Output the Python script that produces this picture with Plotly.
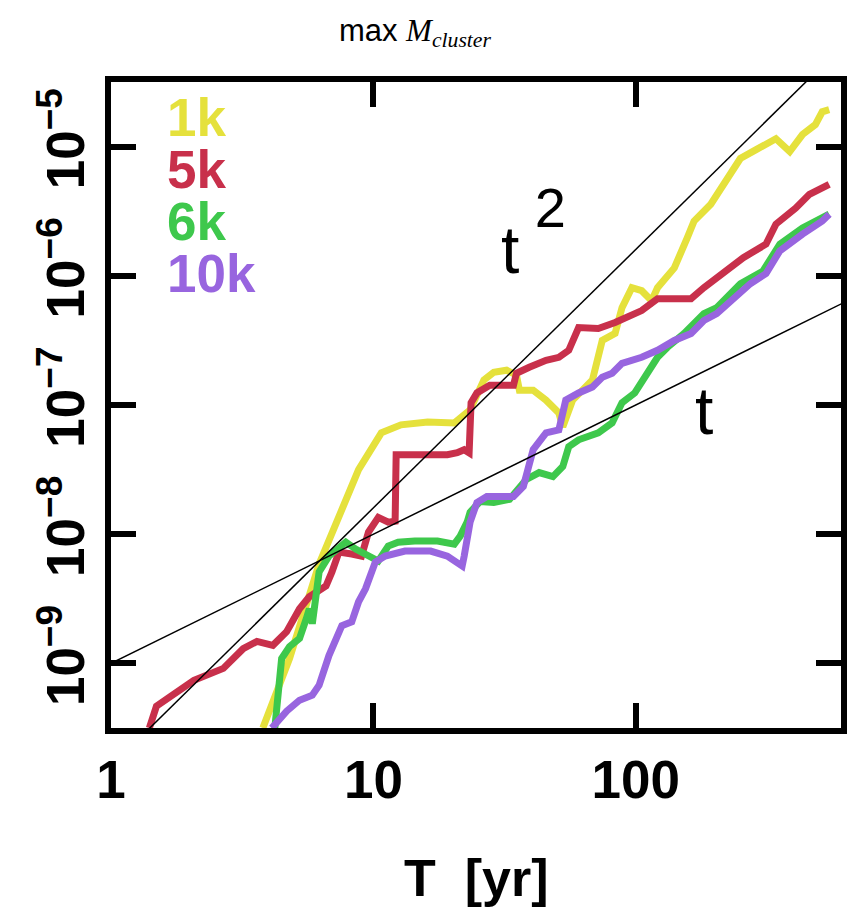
import plotly.graph_objects as go

# Largest cluster mass versus time for four run sizes
T_1K = [3.79, 4.79, 6.21, 7.92, 8.78, 10.72, 12.74, 16.10, 20.34, 23.36, 26.37, 28.75, 32.17, 35.09,
        36.01, 40.64, 45.49, 50.91, 52.70, 57.46, 68.34, 74.51, 83.39, 88.60, 96.6, 105.3, 114.9, 121.0,
        140.2, 156.9, 166.7, 193.1, 216.1, 250.3, 287.5, 341.9, 386.0, 431.8, 483.4, 513.4, 545.7]
M_1K = [3.16e-10, 1.09e-9, 5.88e-9, 1.86e-8, 3.16e-8, 6.09e-8, 7.02e-8, 7.40e-8, 7.27e-8, 9.16e-8,
        1.56e-7, 1.79e-7, 1.86e-7, 1.70e-7, 1.30e-7, 1.30e-7, 1.09e-7, 8.68e-8, 6.77e-8, 1.09e-7,
        1.56e-7, 3.16e-7, 3.58e-7, 5.67e-7, 8.09e-7, 7.67e-7, 6.42e-7, 8.09e-7, 1.15e-6, 1.96e-6,
        2.65e-6, 3.58e-6, 5.10e-6, 8.09e-6, 9.48e-6, 1.15e-5, 9.16e-6, 1.24e-5, 1.48e-5, 1.86e-5, 1.93e-5]

T_5K = [1.40, 1.49, 1.65, 2.07, 2.68, 3.19, 3.60, 4.14, 4.67, 5.23, 5.70, 6.60, 6.95, 7.39, 8.27,
        9.01, 9.58, 10.44, 11.39, 12.10, 12.21, 14.38, 19.14, 20.87, 22.18, 23.16, 23.56, 24.81, 27.77,
        34.19, 35.09, 39.26, 45.49, 50.91, 55.52, 60.53, 71.96, 83.39, 96.6, 105.3, 121.0, 162.4, 181.7,
        216.1, 256.9, 313.5, 341.9, 406.4, 458.8, 545.7]
M_5K = [3.16e-10, 4.67e-10, 5.38e-10, 7.40e-10, 9.15e-10, 1.30e-9, 1.48e-9, 1.38e-9, 1.76e-9, 2.65e-9,
        3.28e-9, 3.98e-9, 5.10e-9, 7.27e-9, 7.02e-9, 6.77e-9, 1.04e-8, 1.35e-8, 1.24e-8, 1.26e-8,
        4.12e-8, 4.12e-8, 4.12e-8, 4.27e-8, 4.51e-8, 4.27e-8, 1.04e-7, 1.24e-7, 1.42e-7, 1.42e-7,
        1.76e-7, 1.96e-7, 2.22e-7, 2.34e-7, 2.65e-7, 3.98e-7, 3.91e-7, 4.35e-7, 4.92e-7, 5.38e-7,
        6.65e-7, 6.65e-7, 8.09e-7, 1.04e-6, 1.38e-6, 1.76e-6, 2.51e-6, 3.34e-6, 4.27e-6, 5.10e-6]

T_6K = [4.21, 4.47, 4.79, 5.23, 5.55, 5.70, 5.85, 6.05, 6.21, 6.77, 7.85, 8.56, 9.58, 10.44, 11.39,
        12.42, 14.38, 17.55, 20.34, 21.42, 22.76, 23.36, 25.47, 28.75, 33.03, 38.25, 42.81, 48.33,
        52.70, 55.52, 60.53, 71.96, 81.24, 88.60, 99.1, 108.1, 121.0, 131.9, 152.8, 181.7, 203.4,
        250.3, 305.5, 353.9, 431.8, 545.7]
M_6K = [3.16e-10, 1.09e-9, 1.35e-9, 1.56e-9, 2.22e-9, 2.65e-9, 2.03e-9, 3.16e-9, 5.10e-9, 6.77e-9,
        8.68e-9, 7.67e-9, 6.77e-9, 6.20e-9, 8.09e-9, 8.68e-9, 8.84e-9, 8.84e-9, 8.38e-9, 9.66e-9,
        1.24e-8, 1.48e-8, 1.79e-8, 1.76e-8, 1.86e-8, 2.65e-8, 3.00e-8, 2.79e-8, 3.34e-8, 4.75e-8,
        5.38e-8, 6.09e-8, 7.27e-8, 1.04e-7, 1.24e-7, 1.64e-7, 2.34e-7, 2.79e-7, 3.58e-7, 5.10e-7,
        5.67e-7, 8.68e-7, 1.09e-6, 1.76e-6, 2.34e-6, 3.00e-6]

T_10K = [4.10, 4.67, 5.23, 5.85, 6.21, 6.77, 7.58, 8.27, 8.78, 9.33, 10.17, 11.09, 13.19, 16.52, 19.14,
         20.87, 21.79, 22.18, 23.36, 24.81, 27.06, 34.19, 37.28, 40.64, 45.49, 50.91, 54.09, 60.53,
         68.34, 74.51, 81.24, 88.60, 105.3, 121.0, 140.2, 162.4, 181.7, 203.4, 235.6, 273.1, 313.5,
         353.9, 431.8, 513.4, 545.7]
M_10K = [3.16e-10, 4.27e-10, 5.19e-10, 5.67e-10, 6.77e-10, 1.15e-9, 1.96e-9, 2.10e-9, 3.00e-9, 3.78e-9,
         6.09e-9, 6.77e-9, 7.40e-9, 7.40e-9, 6.77e-9, 6.09e-9, 5.67e-9, 6.77e-9, 1.24e-8, 1.76e-8,
         1.96e-8, 1.96e-8, 2.34e-8, 4.51e-8, 6.09e-8, 6.42e-8, 1.09e-7, 1.24e-7, 1.38e-7, 1.64e-7,
         1.76e-7, 2.10e-7, 2.34e-7, 2.65e-7, 3.16e-7, 3.58e-7, 4.51e-7, 5.10e-7, 6.77e-7, 8.68e-7,
         1.04e-6, 1.56e-6, 2.10e-6, 2.65e-6, 3.00e-6]

SERIES_NAMES = ["1k", "5k", "6k", "10k"]
SERIES_COLORS = ["#e5e13c", "#c8304b", "#3ec84c", "#9865df"]
SERIES_T = [T_1K, T_5K, T_6K, T_10K]
SERIES_M = [M_1K, M_5K, M_6K, M_10K]

# Power-law guide lines: M = c * t^p
GUIDE_T = [1.0, 700.0]
GUIDE_LINEAR = (1.0e-9, 1)
GUIDE_QUADRATIC = (1.6e-10, 2)

X_TICKS = [1, 10, 100]
X_TICKTEXT = ["1", "10", "100"]
Y_TICKS = [1e-9, 1e-8, 1e-7, 1e-6, 1e-5]
Y_TICKTEXT = ["10<sup>\u22129</sup>", "10<sup>\u22128</sup>", "10<sup>\u22127</sup>",
              "10<sup>\u22126</sup>", "10<sup>\u22125</sup>"]

fig = go.Figure()

for name, color, t, m in zip(SERIES_NAMES, SERIES_COLORS, SERIES_T, SERIES_M):
    fig.add_trace(go.Scatter(x=t, y=m, mode="lines", name=name,
                             line=dict(color=color, width=7)))

for c, p in (GUIDE_LINEAR, GUIDE_QUADRATIC):
    fig.add_trace(go.Scatter(x=GUIDE_T, y=[c * t ** p for t in GUIDE_T], mode="lines",
                             line=dict(color="black", width=1.5), hoverinfo="skip"))

axis_common = dict(
    type="log", showline=True, linewidth=6, linecolor="black", mirror="ticks",
    ticks="inside", ticklen=25, tickwidth=6, tickcolor="black",
    showgrid=False, zeroline=False,
    tickfont=dict(family="Liberation Sans", size=53, color="black", weight="bold"),
)

fig.update_xaxes(range=[0, 2.782], tickvals=X_TICKS, ticktext=X_TICKTEXT,
                 ticklabelstandoff=0, **axis_common)
fig.update_yaxes(range=[-9.5, -4.5], tickvals=Y_TICKS, ticktext=Y_TICKTEXT,
                 tickangle=-90, ticklabelstandoff=0, **axis_common)

# Series key in the upper-left corner: one text block, one coloured line per run
key_text = "<br>".join(
    f"<span style='color:{color};font-size:53px'>{name}</span>"
    for name, color in zip(SERIES_NAMES, SERIES_COLORS)
)
fig.add_annotation(text=key_text, xref="paper", yref="paper", x=0.074, y=0.994,
                   xanchor="left", yanchor="top", align="left", showarrow=False,
                   font=dict(family="Liberation Sans", size=40, color="black", weight="bold"))

# Slope labels for the guide lines; the large base size sets a high superscript shift
fig.add_annotation(text="<span style='font-size:66px'>t</span><sup>\u2009<span style='font-size:56px'>2</span></sup>",
                   xref="paper", yref="paper", x=0.532, y=0.783,
                   xanchor="left", yanchor="middle", showarrow=False,
                   font=dict(family="Liberation Sans", size=110, color="black"))
fig.add_annotation(text="t", xref="paper", yref="paper", x=0.813, y=0.49,
                   xanchor="center", yanchor="middle", showarrow=False,
                   font=dict(family="Liberation Sans", size=66, color="black"))

fig.add_annotation(text="T  [yr]", xref="paper", yref="paper", x=0.5, y=-0.232,
                   xanchor="center", yanchor="middle", showarrow=False,
                   font=dict(family="Liberation Sans", size=52, color="black", weight="bold"))

fig.update_layout(
    width=852, height=907,
    margin=dict(l=111, r=5, t=82, b=179),
    plot_bgcolor="white", paper_bgcolor="white",
    showlegend=False,
    title=dict(
        text="max <span style='font-family:Liberation Serif'><i>M</i><sub><i>cluster</i></sub></span>",
        x=0.487, xanchor="center", y=0.967, yanchor="middle",
        font=dict(family="Liberation Sans", size=31, color="black"),
    ),
)

fig.write_html("out.html")
